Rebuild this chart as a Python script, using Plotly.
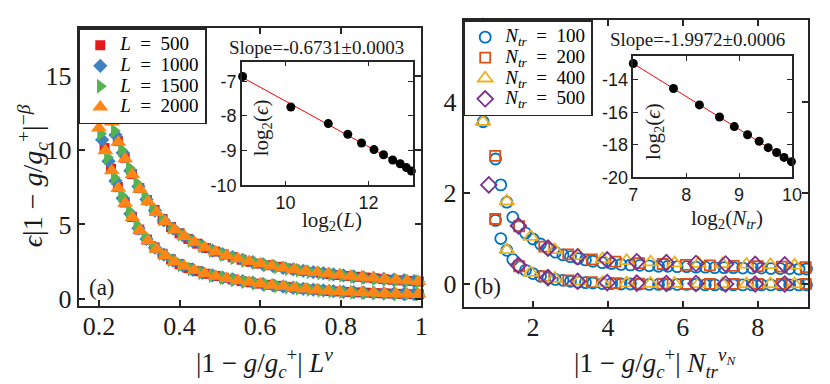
import numpy as np
import plotly.graph_objects as go

W, H = 830, 384

# ---------------- panel (a): collapse vs |1-g/gc| L^nu (upper / lower branch)
x_L500 = [0.214, 0.230, 0.247, 0.264, 0.282, 0.300, 0.319, 0.338, 0.358, 0.379, 0.400, 0.422, 0.444,
          0.466, 0.488, 0.510, 0.532, 0.554, 0.576, 0.598, 0.620, 0.642, 0.664, 0.686, 0.708, 0.730,
          0.752, 0.774, 0.796, 0.818, 0.840, 0.862, 0.884, 0.906, 0.928, 0.950, 0.972, 0.994]
y_L500_up = [14.08, 12.1, 10.61, 9.49, 8.39, 7.45, 6.64, 5.97, 5.36, 4.82, 4.4, 4.02, 3.7, 3.41, 3.17,
             2.97, 2.79, 2.62, 2.48, 2.36, 2.25, 2.14, 2.04, 1.96, 1.87, 1.79, 1.72, 1.65, 1.59, 1.53,
             1.47, 1.42, 1.37, 1.32, 1.27, 1.23, 1.19, 1.15]
y_L500_lo = [10.14, 8.75, 7.51, 6.48, 5.5, 4.65, 3.98, 3.45, 3.02, 2.64, 2.32, 2.06, 1.85, 1.67, 1.52,
             1.4, 1.29, 1.18, 1.1, 1.01, 0.93, 0.86, 0.79, 0.72, 0.66, 0.61, 0.56, 0.51, 0.48, 0.45,
             0.42, 0.4, 0.37, 0.36, 0.34, 0.32, 0.3, 0.29]

x_L1000 = [0.208, 0.224, 0.241, 0.259, 0.278, 0.298, 0.318, 0.339, 0.361, 0.384, 0.408, 0.432, 0.457,
           0.482, 0.507, 0.532, 0.557, 0.582, 0.607, 0.632, 0.657, 0.682, 0.707, 0.732, 0.757, 0.782,
           0.807, 0.832, 0.857, 0.882, 0.907, 0.932, 0.957, 0.982]
y_L1000_up = [14.88, 12.82, 11.03, 9.82, 8.62, 7.55, 6.68, 5.93, 5.27, 4.72, 4.26, 3.87, 3.52, 3.23,
              2.99, 2.79, 2.6, 2.45, 2.31, 2.19, 2.07, 1.97, 1.87, 1.79, 1.71, 1.63, 1.56, 1.49, 1.43,
              1.38, 1.32, 1.27, 1.22, 1.17]
y_L1000_lo = [10.7, 9.26, 7.93, 6.76, 5.71, 4.74, 4.02, 3.43, 2.96, 2.56, 2.22, 1.96, 1.74, 1.56,
              1.41, 1.29, 1.17, 1.07, 0.97, 0.89, 0.81, 0.73, 0.66, 0.6, 0.55, 0.5, 0.46, 0.43, 0.4,
              0.38, 0.35, 0.33, 0.31, 0.3]

x_L1500 = [0.204, 0.221, 0.238, 0.256, 0.275, 0.294, 0.314, 0.335, 0.357, 0.380, 0.404, 0.429, 0.455,
           0.481, 0.508, 0.535, 0.562, 0.589, 0.616, 0.643, 0.670, 0.697, 0.724, 0.751, 0.778, 0.805,
           0.832, 0.859, 0.886, 0.913, 0.940, 0.967, 0.994]
y_L1500_up = [15.44, 13.18, 11.3, 10.01, 8.8, 7.75, 6.84, 6.07, 5.38, 4.8, 4.33, 3.92, 3.55, 3.24,
              2.98, 2.76, 2.57, 2.41, 2.27, 2.13, 2.02, 1.91, 1.81, 1.73, 1.64, 1.57, 1.49, 1.43,
              1.36, 1.3, 1.25, 1.2, 1.15]
y_L1500_lo = [11.1, 9.52, 8.15, 6.94, 5.88, 4.92, 4.15, 3.53, 3.04, 2.62, 2.27, 1.99, 1.75, 1.56,
              1.41, 1.27, 1.15, 1.04, 0.94, 0.85, 0.77, 0.69, 0.62, 0.56, 0.51, 0.46, 0.43, 0.4,
              0.37, 0.35, 0.33, 0.31, 0.29]

x_L2000 = [0.200, 0.216, 0.232, 0.248, 0.265, 0.283, 0.302, 0.322, 0.343, 0.365, 0.388, 0.412, 0.437,
           0.463, 0.490, 0.517, 0.545, 0.573, 0.601, 0.629, 0.657, 0.685, 0.713, 0.741, 0.769, 0.797,
           0.825, 0.853, 0.881, 0.909, 0.937, 0.965, 0.993]
y_L2000_up = [16.0, 13.82, 11.9, 10.54, 9.43, 8.34, 7.36, 6.53, 5.8, 5.17, 4.63, 4.19, 3.8, 3.45,
              3.15, 2.91, 2.69, 2.5, 2.34, 2.2, 2.07, 1.96, 1.85, 1.76, 1.67, 1.59, 1.51, 1.44, 1.38,
              1.31, 1.26, 1.2, 1.15]
y_L2000_lo = [11.5, 9.96, 8.61, 7.44, 6.43, 5.45, 4.58, 3.89, 3.33, 2.89, 2.49, 2.18, 1.91, 1.69,
              1.51, 1.36, 1.22, 1.11, 1.0, 0.9, 0.81, 0.72, 0.65, 0.58, 0.52, 0.47, 0.44, 0.41, 0.38,
              0.35, 0.33, 0.31, 0.29]

# inset (a): log2(eps) vs log2(L)
log2_L = [8.97, 10.13, 11.03, 11.50, 11.83, 12.13, 12.36, 12.58, 12.76, 12.91, 13.03]
log2_eps_L = [-6.86, -7.74, -8.22, -8.53, -8.78, -8.97, -9.12, -9.27, -9.38, -9.49, -9.59]

# ---------------- panel (b): collapse vs |1-g/gc| N_tr^nu_N
x_N100 = [0.67, 1.0, 1.14, 1.3, 1.46, 1.62, 1.8, 2.0, 2.2, 2.4, 2.6, 2.8, 3.0, 3.2, 3.4, 3.6, 3.85,
          4.1, 4.35, 4.6, 4.85, 5.1, 5.35, 5.6, 5.85, 6.1, 6.35, 6.6, 6.85, 7.1, 7.35, 7.6, 7.85,
          8.1, 8.35, 8.6, 8.85, 9.1, 9.3]
y_N100_up = [5.7, 2.75, 2.18, 1.8, 1.47, 1.27, 1.12, 0.99, 0.88, 0.78, 0.7, 0.64, 0.6, 0.56, 0.53,
             0.5, 0.47, 0.45, 0.43, 0.42, 0.41, 0.4, 0.39, 0.39, 0.38, 0.38, 0.37, 0.37, 0.36, 0.36,
             0.36, 0.35, 0.35, 0.35, 0.34, 0.34, 0.34, 0.33, 0.33]
y_N100_lo = [3.57, 1.4, 1.0, 0.74, 0.54, 0.4, 0.3, 0.23, 0.17, 0.13, 0.1, 0.08, 0.06, 0.04, 0.03,
             0.02, 0.01, 0.01, 0.0, 0.0, 0.0, -0.01, -0.01, -0.01, -0.01, -0.01, -0.01, -0.02, -0.02,
             -0.02, -0.02, -0.02, -0.02, -0.02, -0.02, -0.02, -0.02, -0.02, -0.02]

x_N200 = [0.99, 1.63, 2.3, 2.94, 3.57, 4.2, 4.83, 5.46, 6.08, 6.72, 7.36, 8.0, 8.64, 9.28]
y_N200_up = [2.82, 1.27, 0.82, 0.65, 0.54, 0.49, 0.46, 0.44, 0.42, 0.41, 0.40, 0.39, 0.38, 0.37]
y_N200_lo = [1.43, 0.39, 0.17, 0.08, 0.04, 0.02, 0.01, 0.01, 0.0, 0.0, 0.0, 0.0, 0.0, 0.0]

x_N400 = [0.665, 1.3, 1.94, 2.58, 3.22, 3.86, 4.5, 5.14, 5.78, 6.42, 7.06, 7.7, 8.34, 8.98]
y_N400_up = [5.7, 1.82, 1.04, 0.75, 0.62, 0.55, 0.51, 0.48, 0.46, 0.45, 0.44, 0.43, 0.42, 0.41]
y_N400_lo = [3.57, 0.75, 0.25, 0.12, 0.06, 0.03, 0.02, 0.01, 0.01, 0.0, 0.0, 0.0, 0.0, 0.0]

x_N500 = [0.82, 1.61, 2.4, 3.19, 3.98, 4.77, 5.56, 6.35, 7.14, 7.93, 8.72]
y_N500_up = [4.3, 1.28, 0.79, 0.6, 0.53, 0.49, 0.47, 0.45, 0.44, 0.43, 0.42]
y_N500_lo = [2.18, 0.41, 0.14, 0.06, 0.03, 0.02, 0.01, 0.01, 0.0, 0.0, 0.0]

# inset (b): log2(eps) vs log2(N_tr)
log2_N = [7.0, 7.76, 8.25, 8.63, 8.91, 9.16, 9.38, 9.55, 9.71, 9.85, 9.99]
log2_eps_N = [-13.01, -14.54, -15.55, -16.29, -16.88, -17.38, -17.78, -18.17, -18.47, -18.77, -19.03]

# tick values / labels
ticks_a_x = [0.2, 0.4, 0.6, 0.8, 1.0]
ticks_a_x_txt = ["0.2", "0.4", "0.6", "0.8", "1"]
ticks_a_y = [0, 5, 10, 15]
ticks_b_x = [2, 4, 6, 8]
ticks_b_y = [0, 2, 4]
ticks_ia_x = [10, 12]
ticks_ia_y = [-10, -9, -8, -7]
ticks_ib_x = [7, 8, 9, 10]
ticks_ib_y = [-20, -18, -16, -14]


def px(x):
    return x / W


def py(y):
    return 1 - y / H


SERIF = "Liberation Serif, DejaVu Serif, serif"
SANS = "Liberation Sans, Arial, sans-serif"
INK = "#262626"
SP = "\u00a0 "  # a bit wider gap around "=" like the math spacing


def leg_label(head, val):
    # big text, while the legend's own (smaller) font keeps the rows tight
    return '<span style="font-size:19px">' + head + SP + "=" + SP + val + "</span>"


fig = go.Figure()

# panel (a) series: red squares, blue diamonds, green right triangles, orange up triangles
series_a = [
    ("500", x_L500, y_L500_up, y_L500_lo, "square", "#E41A1C", 10),
    ("1000", x_L1000, y_L1000_up, y_L1000_lo, "diamond", "#3F82BF", 11),
    ("1500", x_L1500, y_L1500_up, y_L1500_lo, "triangle-right", "#55B352", 13),
    ("2000", x_L2000, y_L2000_up, y_L2000_lo, "triangle-up", "#FF8616", 14),
]
for lab, xs, yu, yl, sym, col, sz in series_a:
    fig.add_trace(go.Scatter(
        x=xs + xs, y=yu + yl, mode="markers", name=leg_label("<i>L</i>", lab), legend="legend",
        marker=dict(symbol=sym, color=col, size=sz, line=dict(width=0)),
        xaxis="x", yaxis="y", cliponaxis=False))

# panel (b) series: open markers
series_b = [
    ("100", x_N100, y_N100_up, y_N100_lo, "circle-open", "#0072BD", 11),
    ("200", x_N200, y_N200_up, y_N200_lo, "square-open", "#D95319", 10),
    ("400", x_N400, y_N400_up, y_N400_lo, "triangle-up-open", "#EDB120", 13),
    ("500", x_N500, y_N500_up, y_N500_lo, "diamond-open", "#7E2F8E", 12),
]
for lab, xs, yu, yl, sym, col, sz in series_b:
    fig.add_trace(go.Scatter(
        x=xs + xs, y=yu + yl, mode="markers", legend="legend2",
        name=leg_label("<i>N</i><sub><i>tr</i></sub>", lab),
        marker=dict(symbol=sym, color=col, size=sz, line=dict(width=1.8, color=col)),
        xaxis="x2", yaxis="y2", cliponaxis=False))

# insets: points and linear fit
for xs, ys, xa, ya in [(log2_L, log2_eps_L, "x3", "y3"), (log2_N, log2_eps_N, "x4", "y4")]:
    k, b = np.polyfit(xs, ys, 1)
    xf = np.array([min(xs), max(xs)])
    fig.add_trace(go.Scatter(x=xf, y=k * xf + b, mode="lines", line=dict(color="#FF0000", width=1),
                             showlegend=False, xaxis=xa, yaxis=ya, cliponaxis=False))
    fig.add_trace(go.Scatter(x=xs, y=ys, mode="markers", marker=dict(color="black", size=9),
                             showlegend=False, xaxis=xa, yaxis=ya, cliponaxis=False))

main_ax = dict(showline=True, linecolor=INK, linewidth=2, mirror="allticks", ticks="inside",
               ticklen=6, tickwidth=1.5, tickcolor=INK, showgrid=False, zeroline=False,
               tickfont=dict(family=SERIF, size=26, color="#1a1a1a"))
inset_ax = dict(showline=True, linecolor=INK, linewidth=1.5, mirror="allticks", ticks="inside",
                ticklen=5, tickwidth=1.2, tickcolor=INK, showgrid=False, zeroline=False,
                tickfont=dict(family=SANS, size=18, color="#1a1a1a"))

legend_style = dict(xanchor="left", yanchor="top", bgcolor="white", bordercolor=INK,
                    borderwidth=1.5, font=dict(family=SERIF, size=13.5, color="black"),
                    tracegroupgap=0)

fig.update_layout(
    width=W, height=H, margin=dict(l=0, r=0, t=0, b=0),
    paper_bgcolor="white", plot_bgcolor="white",
    xaxis=dict(main_ax, domain=[px(67), px(416)], range=[0.15, 1.0005],
               tickvals=ticks_a_x, ticktext=ticks_a_x_txt, anchor="y", ticklabelstandoff=-4),
    yaxis=dict(main_ax, domain=[py(306), py(21)], range=[-0.5, 18.2], tickvals=ticks_a_y, anchor="x"),
    xaxis2=dict(main_ax, domain=[px(459), px(810)], range=[0.15, 9.35], tickvals=ticks_b_x,
                anchor="y2", ticklabelstandoff=-4),
    yaxis2=dict(main_ax, domain=[py(306.7), py(12.7)], range=[-0.5, 5.8], tickvals=ticks_b_y, anchor="x2"),
    xaxis3=dict(inset_ax, domain=[px(233), px(407)], range=[8.95, 13.06], tickvals=ticks_ia_x,
                ticktext=[str(v) for v in ticks_ia_x], anchor="y3"),
    yaxis3=dict(inset_ax, domain=[py(182), py(55)], range=[-10, -6.43], tickvals=ticks_ia_y,
                ticktext=[str(v) for v in ticks_ia_y], anchor="x3"),
    xaxis4=dict(inset_ax, domain=[px(631.7), px(793.3)], range=[7, 10], tickvals=ticks_ib_x,
                ticktext=[str(v) for v in ticks_ib_x], anchor="y4"),
    yaxis4=dict(inset_ax, domain=[py(174), py(49.3)], range=[-20, -12.55], tickvals=ticks_ib_y,
                ticktext=[str(v) for v in ticks_ib_y], anchor="x4"),
    legend=dict(legend_style, x=px(67), y=py(21)),
    legend2=dict(legend_style, x=px(459), y=py(12.7)),
)

sub_gc = "<i>g</i><sub><i>c</i></sub><sup>+</sup>"
annots = [
    # main axis titles
    (px(256), py(364), "|1 \u2212 <i>g</i>/" + sub_gc + "| <i>L</i><sup><i>\u03bd</i></sup>", 27, 0),
    (px(654), py(365), "|1 \u2212 <i>g</i>/" + sub_gc + "| <i>N</i><sub><i>tr</i></sub><sup><i>\u03bd</i><sub><i>N</i></sub></sup>", 27, 0),
    (px(20), py(172), "<i>\u03f5</i>|1 \u2212 <i>g</i>/" + sub_gc + "|<sup>\u2212<i>\u03b2</i></sup>", 28, -90),
    # panel tags
    (px(91), py(287), "(a)", 23, 0),
    (px(483), py(286), "(b)", 23, 0),
    # inset labels
    (px(309), py(41), "Slope=-0.6731\u00b10.0003", 19, 0),
    (px(253), py(123), "log<sub>2</sub>(<i>\u03f5</i>)", 21, -90),
    (px(325), py(219), "log<sub>2</sub>(<i>L</i>)", 21, 0),
    (px(697), py(32), "Slope=-1.9972\u00b10.0006", 19, 0),
    (px(652), py(127), "log<sub>2</sub>(<i>\u03f5</i>)", 21, -90),
    (px(727), py(217), "log<sub>2</sub>(<i>N</i><sub><i>tr</i></sub>)", 21, 0),
]
for x, y, txt, size, ang in annots:
    fig.add_annotation(x=x, y=y, xref="paper", yref="paper", text=txt, showarrow=False,
                       textangle=ang, xanchor="center", yanchor="middle",
                       font=dict(family=SERIF, size=size, color="#1a1a1a"))

fig.write_html("out.html")
